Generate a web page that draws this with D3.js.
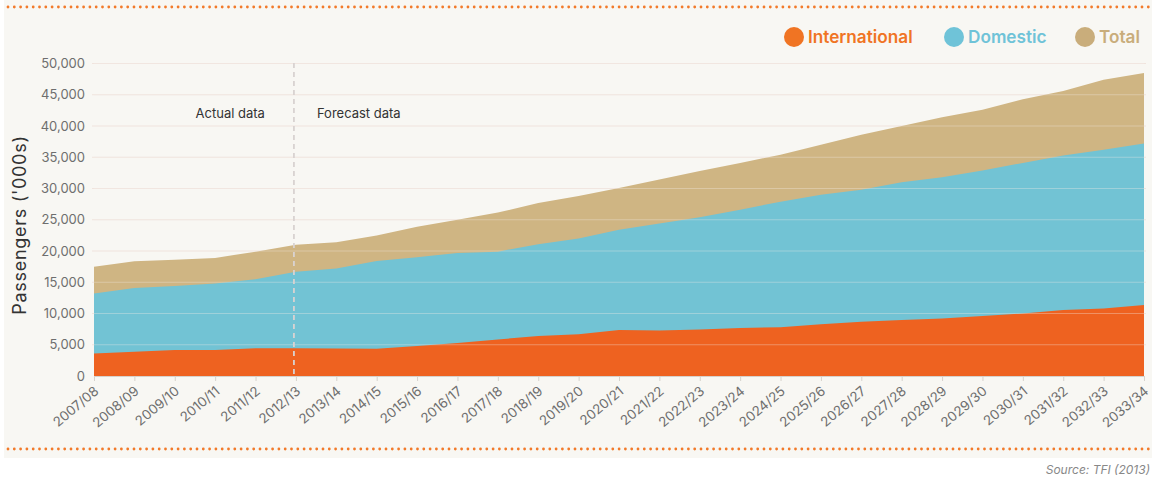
<!DOCTYPE html>
<html>
<head>
<meta charset="utf-8">
<script src="https://cdn.jsdelivr.net/npm/d3@7/dist/d3.min.js"></script>
<style>
  body { margin: 0; background: #fff; }
  svg { display: block; font-family: Inter, 'Open Sans', sans-serif; }
</style>
</head>
<body>
<div id="chart"></div>
<script>
const years = ['2007/08', '2008/09', '2009/10', '2010/11', '2011/12', '2012/13', '2013/14',
  '2014/15', '2015/16', '2016/17', '2017/18', '2018/19', '2019/20', '2020/21', '2021/22',
  '2022/23', '2023/24', '2024/25', '2025/26', '2026/27', '2027/28', '2028/29', '2029/30',
  '2030/31', '2031/32', '2032/33', '2033/34'];

const international = [3600, 3900, 4150, 4150, 4450, 4450, 4400, 4350, 4800, 5300, 5850, 6400,
  6700, 7350, 7300, 7450, 7700, 7800, 8300, 8700, 8950, 9200, 9600, 10000, 10550, 10800, 11350];

const domestic = [13200, 14100, 14400, 14800, 15500, 16700, 17200, 18400, 19000, 19700, 19900,
  21100, 22000, 23400, 24400, 25400, 26600, 27900, 29000, 29800, 31000, 31800, 32900, 34100,
  35300, 36200, 37200];

const total = [17500, 18350, 18600, 18900, 19900, 21000, 21400, 22500, 23900, 25000, 26150,
  27700, 28800, 30100, 31450, 32800, 34100, 35400, 37000, 38600, 40000, 41400, 42600, 44300,
  45600, 47400, 48500];

const yTicks = [0, 5000, 10000, 15000, 20000, 25000, 30000, 35000, 40000, 45000, 50000];
const legendLabels = ['International', 'Domestic', 'Total'];
const splitYear = '2012/13';

const width = 1152;
const height = 479;

const svg = d3.select('#chart').append('svg')
  .attr('width', width)
  .attr('height', height);

// panel background
svg.append('rect')
  .attr('x', 4).attr('y', 0)
  .attr('width', width - 4).attr('height', 458)
  .attr('fill', '#f8f7f3');

// dotted orange rules
[7, 449].forEach(yy => {
  svg.append('line')
    .attr('x1', 8).attr('x2', width)
    .attr('y1', yy).attr('y2', yy)
    .attr('stroke', '#f27a2a')
    .attr('stroke-width', 2.8)
    .attr('stroke-linecap', 'round')
    .attr('stroke-dasharray', '0 6.3');
});

const x = d3.scalePoint().domain(years).range([94, 1144]);
const y = d3.scaleLinear().domain([0, 50000]).range([376, 63.5]);

const colors = { International: '#ee6220', Domestic: '#72c3d4', Total: '#cfb583' };
const legendColors = { International: '#f07423', Domestic: '#6fc3d8', Total: '#c9ad7b' };

const area = d3.area()
  .x((d, i) => x(years[i]))
  .y0(y(0))
  .y1(d => y(d));

// background grid (above empty space)
svg.append('g')
  .selectAll('line')
  .data(yTicks.filter(d => d > 0))
  .join('line')
    .attr('x1', 92).attr('x2', 1146)
    .attr('y1', d => y(d)).attr('y2', d => y(d))
    .attr('stroke', '#f0e4dd')
    .attr('stroke-width', 1.2);

const series = [
  { name: 'Total', values: total },
  { name: 'Domestic', values: domestic },
  { name: 'International', values: international }
];

svg.append('g')
  .selectAll('path')
  .data(series)
  .join('path')
    .attr('d', d => area(d.values))
    .attr('fill', d => colors[d.name]);

// grid lines show faintly over the areas
svg.append('g')
  .selectAll('line')
  .data(yTicks.filter(d => d > 0))
  .join('line')
    .attr('x1', 94).attr('x2', 1144)
    .attr('y1', d => y(d)).attr('y2', d => y(d))
    .attr('stroke', '#f4ebe6')
    .attr('stroke-opacity', 0.35)
    .attr('stroke-width', 1.2);

// y axis
const yAxis = svg.append('g')
  .attr('transform', 'translate(92,0)')
  .call(d3.axisLeft(y).tickValues(yTicks).tickFormat(d3.format(',')).tickSize(0).tickPadding(7));
yAxis.select('.domain').remove();
yAxis.selectAll('text')
  .attr('fill', '#6e6e6e')
  .attr('font-size', 13)
  .attr('font-family', 'Inter, sans-serif');

// x axis
const xAxis = svg.append('g')
  .attr('transform', `translate(0,${y(0)})`)
  .call(d3.axisBottom(x).tickSize(5).tickSizeOuter(0));
xAxis.select('.domain').attr('stroke', '#d6d2cc');
xAxis.selectAll('.tick line').attr('stroke', '#d6d2cc');
xAxis.selectAll('text')
  .attr('fill', '#6e6e6e')
  .attr('font-size', 13.5)
  .attr('font-family', 'Inter, sans-serif')
  .attr('text-anchor', 'end')
  .attr('y', 0)
  .attr('dy', '0.35em')
  .attr('transform', 'translate(2,13) rotate(-40)');

// actual / forecast divider
const sx = x(splitYear) - 2;
svg.append('line')
  .attr('x1', sx).attr('x2', sx)
  .attr('y1', 63).attr('y2', y(0))
  .attr('stroke', '#d9d3d1')
  .attr('stroke-width', 1.8)
  .attr('stroke-dasharray', '5 4');

svg.append('text')
  .attr('x', sx - 29).attr('y', 113)
  .attr('dy', '0.35em')
  .attr('text-anchor', 'end')
  .attr('font-size', 13)
  .attr('fill', '#333')
  .text('Actual data');

svg.append('text')
  .attr('x', sx + 23).attr('y', 113)
  .attr('dy', '0.35em')
  .attr('font-size', 13)
  .attr('fill', '#333')
  .text('Forecast data');

// y title
svg.append('text')
  .attr('transform', 'translate(20,225) rotate(-90)')
  .attr('text-anchor', 'middle')
  .attr('dy', '0.35em')
  .attr('font-size', 18)
  .attr('letter-spacing', 0.7)
  .attr('fill', '#333')
  .text("Passengers ('000s)");

// legend
const legendX = [794, 954, 1085];
const legend = svg.append('g')
  .selectAll('g')
  .data(legendLabels)
  .join('g')
    .attr('transform', (d, i) => `translate(${legendX[i]},37)`);
legend.append('circle')
  .attr('r', 10)
  .attr('fill', d => legendColors[d]);
legend.append('text')
  .attr('x', 14)
  .attr('dy', '0.35em')
  .attr('font-size', 17.2)
  .attr('font-weight', 600)
  .attr('fill', d => legendColors[d])
  .text(d => d);

// source
svg.append('text')
  .attr('x', 1150).attr('y', 470)
  .attr('dy', '0.35em')
  .attr('text-anchor', 'end')
  .attr('font-size', 12)
  .attr('font-style', 'italic')
  .attr('fill', '#888')
  .text('Source: TFI (2013)');
</script>
</body>
</html>
